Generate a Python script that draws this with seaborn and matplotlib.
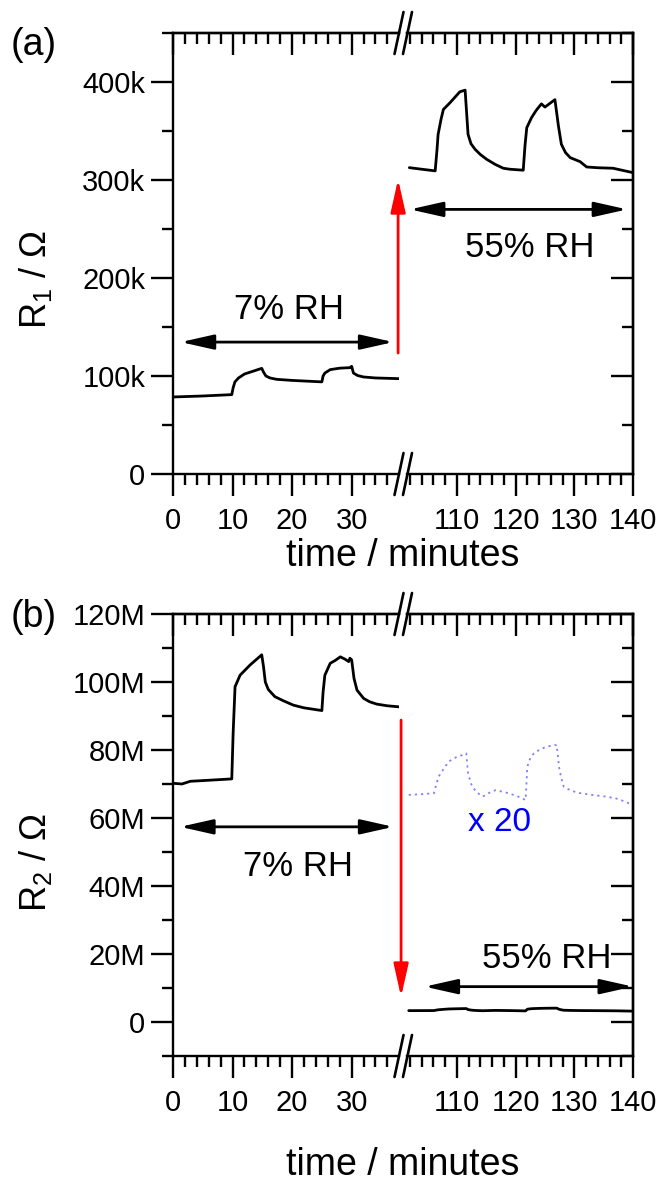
import numpy as np
import matplotlib
matplotlib.use("Agg")
import matplotlib.pyplot as plt
import seaborn as sns
from matplotlib.lines import Line2D
from matplotlib.ticker import MultipleLocator, FuncFormatter

# ---- data (time in minutes, resistance in ohm) ----
# panel (a): R1
t1_dry = [0.05, 5.0, 9.87, 10.1, 10.4, 11.0, 12.0, 13.0, 14.0, 14.9, 15.2, 15.6, 16.3, 17.4,
          20.0, 25.0, 25.2, 25.5, 26.4, 28.0, 29.7, 30.0, 30.3, 31.0, 32.0, 34.0, 37.9]
r1_dry = [78.6e3, 79.6e3, 81.0e3, 88.0e3, 94.0e3, 98.0e3, 102.0e3, 104.0e3, 106.0e3, 107.8e3,
          104.0e3, 100.0e3, 98.0e3, 96.6e3, 95.5e3, 94.0e3, 100.0e3, 103.0e3, 106.5e3, 108.0e3,
          108.5e3, 109.9e3, 103.0e3, 100.5e3, 99.0e3, 98.0e3, 97.3e3]
t1_wet = [101.9, 104.0, 106.3, 106.6, 106.8, 107.3, 107.7, 108.8, 109.6, 110.5, 111.4, 111.9,
          112.4, 113.1, 114.0, 115.1, 116.5, 117.9, 119.0, 121.3, 121.6, 121.9, 122.7, 123.5,
          124.4, 125.0, 125.8, 126.7, 127.3, 127.8, 128.5, 129.3, 131.0, 132.1, 134.0, 136.6, 140.0]
r1_wet = [312.6e3, 311.0e3, 309.3e3, 330.0e3, 346.6e3, 362.0e3, 372.0e3, 378.7e3, 384.0e3,
          390.0e3, 391.7e3, 346.6e3, 337.0e3, 331.3e3, 326.0e3, 321.0e3, 316.0e3, 312.0e3,
          311.0e3, 310.0e3, 335.0e3, 353.3e3, 363.5e3, 371.0e3, 377.7e3, 374.4e3, 378.0e3,
          382.0e3, 355.0e3, 336.4e3, 328.0e3, 322.8e3, 318.7e3, 313.3e3, 312.5e3, 312.0e3, 307.5e3]

# panel (b): R2
t2_dry = [0.05, 1.5, 2.9, 5.0, 9.87, 10.1, 10.42, 11.26, 12.94, 14.9, 15.2, 15.5, 16.0, 17.1,
          18.5, 20.2, 22.0, 25.0, 25.2, 25.5, 26.4, 27.2, 28.1, 28.9, 29.5, 29.7, 30.0, 30.4,
          30.9, 32.0, 33.0, 34.2, 36.0, 37.9]
r2_dry = [70.2e6, 70.0e6, 70.8e6, 71.0e6, 71.5e6, 85.0e6, 98.6e6, 102.0e6, 105.0e6, 108.0e6,
          104.5e6, 100.0e6, 97.8e6, 95.7e6, 94.5e6, 93.2e6, 92.4e6, 91.6e6, 97.0e6, 102.0e6,
          105.5e6, 106.3e6, 107.4e6, 106.7e6, 106.0e6, 107.0e6, 106.5e6, 101.0e6, 97.6e6,
          95.2e6, 94.2e6, 93.5e6, 93.0e6, 92.7e6]
t2_wet = [101.8, 104.0, 106.1, 106.5, 106.9, 107.8, 108.6, 109.8, 110.9, 111.6, 111.9, 112.3,
          112.6, 113.5, 114.4, 115.5, 116.6, 118.8, 120.3, 121.7, 122.0, 122.5, 123.1, 124.2,
          125.3, 127.0, 127.4, 127.8, 128.2, 129.5, 131.0, 133.0, 135.4, 137.5, 139.3, 140.0]
r2_wet = [3.34e6, 3.35e6, 3.365e6, 3.5e6, 3.61e6, 3.73e6, 3.83e6, 3.89e6, 3.925e6, 3.95e6,
          3.655e6, 3.54e6, 3.46e6, 3.37e6, 3.315e6, 3.37e6, 3.41e6, 3.365e6, 3.32e6, 3.265e6,
          3.755e6, 3.88e6, 3.95e6, 4.01e6, 4.05e6, 4.075e6, 3.75e6, 3.58e6, 3.46e6, 3.4e6,
          3.365e6, 3.34e6, 3.315e6, 3.28e6, 3.215e6, 3.2e6]
WET_SCALE = 20

W, H = 663, 1189


def fx(px):
    return px / W


def fy(py):
    return 1 - py / H


sns.set_style("ticks")
plt.rcParams['font.family'] = ['Liberation Sans', 'DejaVu Sans']
plt.rcParams['mathtext.fontset'] = 'custom'
plt.rcParams['mathtext.rm'] = 'Liberation Sans'
plt.rcParams['axes.linewidth'] = 1.7
plt.rcParams['axes.edgecolor'] = 'black'
plt.rcParams['text.color'] = 'black'
plt.rcParams['xtick.color'] = 'black'
plt.rcParams['ytick.color'] = 'black'
plt.rcParams['axes.labelcolor'] = 'black'

TICK_FS = 21
BIG_FS = 25
LW = 1.7
DATA_LW = 2.0

fig = plt.figure(figsize=(W / 100, H / 100), dpi=100)

panels = [
    dict(top=33, bottom=474, ylim=(0, 450e3), major=100e3, minor=50e3, unit=1e3, suffix='k',
         t_dry=t1_dry, r_dry=r1_dry, t_wet=t1_wet, r_wet=r1_wet, tag='(a)', tag_y=45,
         ylabel='R$_\\mathregular{1}$ / Ω', ylabel_y=280, xlabel_y=556),
    dict(top=614, bottom=1056, ylim=(-10e6, 120e6), major=20e6, minor=10e6, unit=1e6, suffix='M',
         t_dry=t2_dry, r_dry=r2_dry, t_wet=t2_wet, r_wet=r2_wet, tag='(b)', tag_y=617,
         ylabel='R$_\\mathregular{2}$ / Ω', ylabel_y=863, xlabel_y=1165),
]

LEFT, BREAK_L, BREAK_R, RIGHT = 173, 399, 407, 633

axes = []
for p in panels:
    h = (p['bottom'] - p['top']) / H
    ax_l = fig.add_axes([fx(LEFT), fy(p['bottom']), (BREAK_L - LEFT) / W, h])
    ax_r = fig.add_axes([fx(BREAK_R), fy(p['bottom']), (RIGHT - BREAK_R) / W, h])
    ax_l.set_xlim(0, 37.95)
    ax_r.set_xlim(101.5, 140)
    fmt = FuncFormatter(lambda v, pos, u=p['unit'], s=p['suffix']: '0' if abs(v) < 1 else f"{v / u:.0f}{s}")
    for ax in (ax_l, ax_r):
        ax.set_ylim(*p['ylim'])
        ax.xaxis.set_major_locator(MultipleLocator(10))
        ax.xaxis.set_minor_locator(MultipleLocator(2))
        ax.yaxis.set_major_locator(MultipleLocator(p['major']))
        ax.yaxis.set_minor_locator(MultipleLocator(p['minor']))
        ax.yaxis.set_major_formatter(fmt)
        ax.tick_params(axis='x', which='major', direction='out', length=16, width=LW,
                       labelsize=TICK_FS, pad=8, top=False)
        ax.tick_params(axis='x', which='minor', direction='out', length=8, width=LW, top=False)
        ax.tick_params(axis='y', which='major', direction='out', length=16, width=LW,
                       labelsize=TICK_FS, pad=4, right=False)
        ax.tick_params(axis='y', which='minor', direction='out', length=8, width=LW, right=False)
        ax.set_xlabel('')
        ax.set_ylabel('')
        ax.patch.set_alpha(0)
        # mirrored axis on top with inward ticks
        sec = ax.secondary_xaxis('top')
        sec.xaxis.set_major_locator(MultipleLocator(10))
        sec.xaxis.set_minor_locator(MultipleLocator(2))
        sec.tick_params(which='major', direction='in', length=16, width=LW, labeltop=False)
        sec.tick_params(which='minor', direction='in', length=8, width=LW)
        sec.spines['top'].set_linewidth(LW)
    ax_l.spines['right'].set_visible(False)
    ax_r.spines['left'].set_visible(False)
    ax_r.tick_params(axis='y', which='both', left=False, labelleft=False)
    secy = ax_r.secondary_yaxis('right')
    secy.yaxis.set_major_locator(MultipleLocator(p['major']))
    secy.yaxis.set_minor_locator(MultipleLocator(p['minor']))
    secy.tick_params(which='major', direction='in', length=16, width=LW, labelright=False)
    secy.tick_params(which='minor', direction='in', length=8, width=LW)
    secy.spines['right'].set_linewidth(LW)

    sns.lineplot(x=p['t_dry'], y=p['r_dry'], ax=ax_l, color='black', lw=DATA_LW,
                 sort=False, estimator=None, legend=False)
    sns.lineplot(x=p['t_wet'], y=p['r_wet'], ax=ax_r, color='black', lw=DATA_LW,
                 sort=False, estimator=None, legend=False)

    # axis break marks
    for yb in (p['top'], p['bottom']):
        for xc in (BREAK_L, BREAK_R + 0.5):
            fig.add_artist(Line2D([fx(xc - 4.5), fx(xc + 4.5)], [fy(yb + 21), fy(yb - 21)],
                                  color='black', lw=1.9))

    fig.text(fx(34), fy(p['tag_y']), p['tag'], fontsize=27, ha='center', va='center')
    fig.text(fx(35), fy(p['ylabel_y']), p['ylabel'], fontsize=BIG_FS + 1, rotation=90,
             ha='center', va='center')
    fig.text(fx(403), fy(p['xlabel_y']), 'time / minutes', fontsize=27, ha='center', va='center')
    axes.append((ax_l, ax_r))

arrow_kw = dict(arrowstyle='<|-|>,head_length=2.0,head_width=0.45', color='black', lw=DATA_LW,
                shrinkA=0, shrinkB=0, mutation_scale=10)
red_kw = dict(arrowstyle='-|>,head_length=2.0,head_width=0.45', color='red', lw=DATA_LW,
              shrinkA=0, shrinkB=0, mutation_scale=10)

(a_l, a_r), (b_l, b_r) = axes

# panel (a) annotations
a_l.annotate('', xy=(37.0, 134.6e3), xytext=(1.3, 134.6e3), arrowprops=arrow_kw, annotation_clip=False)
a_l.text(19.4, 168e3, '7% RH', fontsize=BIG_FS, ha='center', va='center')
a_l.annotate('', xy=(37.8, 300.8e3), xytext=(37.8, 123.4e3), arrowprops=red_kw, annotation_clip=False)
a_r.annotate('', xy=(139.0, 270e3), xytext=(102.0, 270e3), arrowprops=arrow_kw, annotation_clip=False)
a_r.text(122.4, 231e3, '55% RH', fontsize=BIG_FS, ha='center', va='center')

# panel (b) annotations
b_l.annotate('', xy=(37.0, 57.4e6), xytext=(1.2, 57.4e6), arrowprops=arrow_kw, annotation_clip=False)
b_l.text(21.0, 45.7e6, '7% RH', fontsize=BIG_FS, ha='center', va='center')
b_l.annotate('', xy=(38.3, 7.4e6), xytext=(38.3, 88.8e6), arrowprops=red_kw, annotation_clip=False)
b_r.annotate('', xy=(140.0, 10.4e6), xytext=(104.5, 10.4e6), arrowprops=arrow_kw, annotation_clip=False)
b_r.text(125.3, 18.7e6, '55% RH', fontsize=BIG_FS, ha='center', va='center')

# magnified (x 20) trace of the 55% RH signal
sns.lineplot(x=t2_wet, y=np.array(r2_wet) * WET_SCALE, ax=b_r, color='#8080ff', lw=1.3,
             linestyle=(0, (1.2, 2.2)), sort=False, estimator=None, legend=False)
b_r.text(117.2, 58.8e6, 'x 20', fontsize=24, color='blue', ha='center', va='center')

fig.savefig('out.png', dpi=100)
